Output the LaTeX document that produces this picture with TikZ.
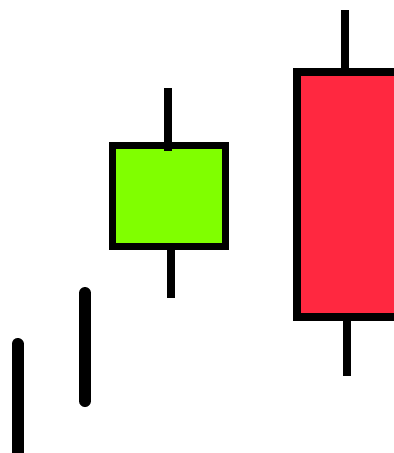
\documentclass[tikz,border=0pt]{standalone}
\definecolor{upgreen}{HTML}{80FF00}
\definecolor{downred}{HTML}{FF2840}
\tikzset{
  wick/.style={line width=8pt, black},
  tick/.style={line width=12pt, black, line cap=round},
  body/.style={line width=8pt, draw=black}
}
\begin{document}
\begin{tikzpicture}[x=1pt,y=-1pt]
\useasboundingbox (0,0) rectangle (394,453);
\clip (0,0) rectangle (394,453);
% left ticks
\draw[tick] (17.5,344) -- (17.5,470);
\draw[tick] (85,293) -- (85,401);
% green candle
\draw[body, line width=7pt, fill=upgreen] (112.5,145.5) rectangle (225.5,246.5);
\draw[wick] (168,88) -- (168,151);
\draw[wick] (171,250) -- (171,298);
% red candle
\draw[body, fill=downred] (297,72) rectangle (410,317);
\draw[wick] (344.5,10) -- (344.5,72);
\draw[wick] (347,317) -- (347,376);
\end{tikzpicture}
\end{document}
